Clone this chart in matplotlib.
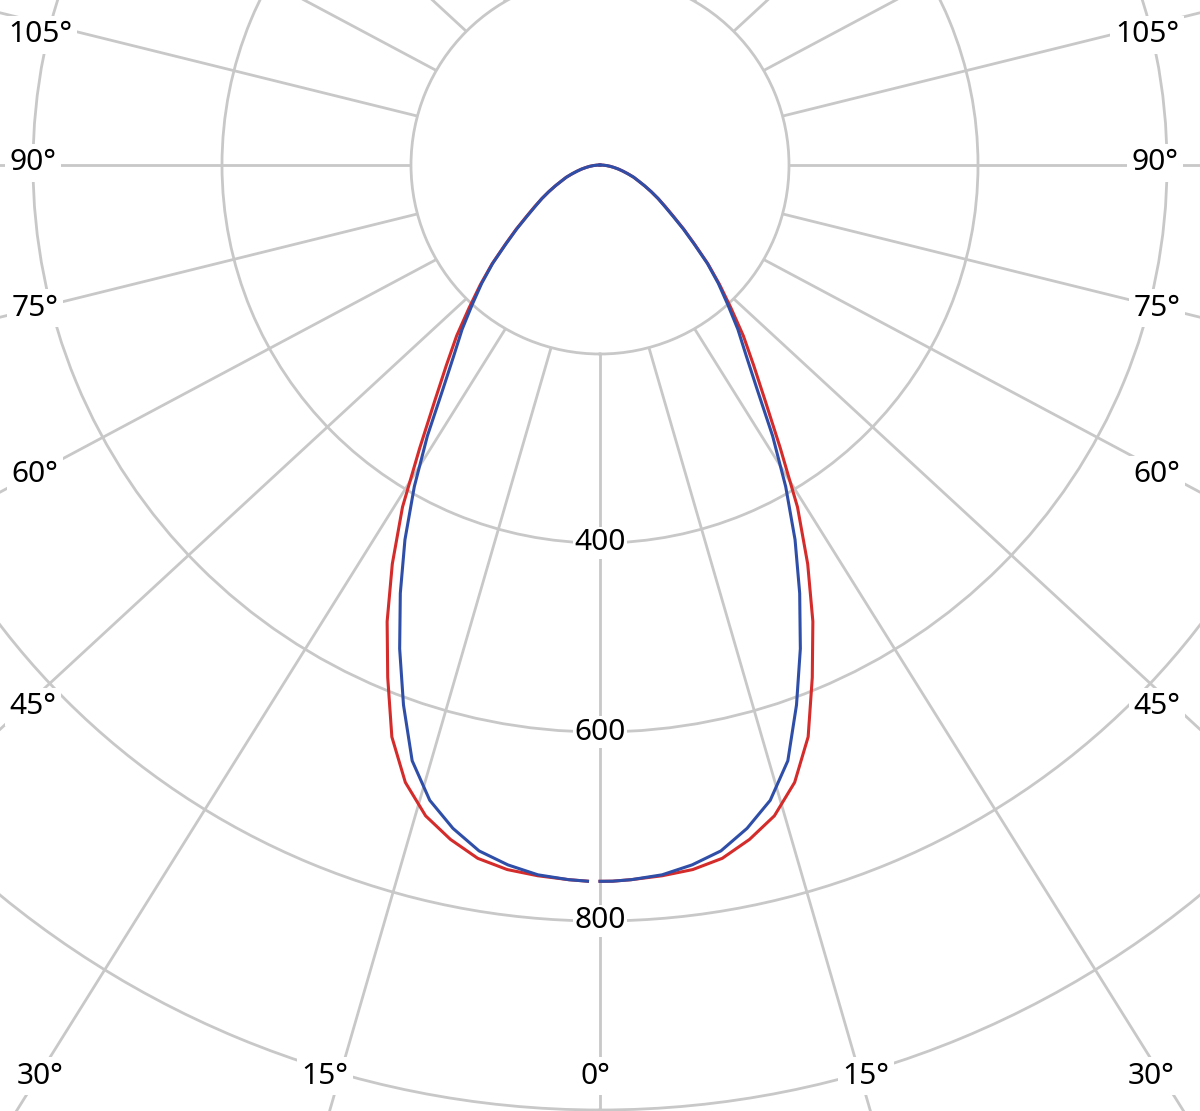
import numpy as np
import matplotlib
matplotlib.use("Agg")
import matplotlib.pyplot as plt

# ---- data (luminous intensity, cd) ----
angles_deg = [0, 1, 2.5, 5, 7.5, 10, 12.5, 15, 17.5, 20, 22.5, 25, 27.5, 30,
              32.5, 35, 37.5, 40, 42.5, 45, 47.5, 50, 52.5, 55, 57.5, 60,
              62.5, 65, 67.5, 70, 72.5, 75, 77.5, 80, 82.5, 85, 87.5, 90]
red_cd = [758, 758, 757, 755, 752, 745, 731, 713, 685, 644, 587, 533, 476, 418,
          355, 305, 267, 236, 205, 179, 155, 131, 112, 95, 82, 71,
          61, 52, 44, 38, 31, 25, 20, 15, 11, 7, 3, 0]
blue_cd = [758, 758, 757, 754, 747, 737, 719, 696, 661, 608, 554, 500, 447, 393,
           340, 290, 254, 227, 200, 177, 154, 130, 111, 94, 81, 71,
           61, 52, 44, 38, 31, 25, 20, 15, 11, 7, 3, 0]

ring_values = [200, 400, 600, 800, 1000]
ring_label_values = [400, 600, 800]
spoke_angles = list(range(-165, 181, 15))

angle_labels = ["105°", "90°", "75°", "60°", "45°", "30°", "15°", "0°",
                "15°", "30°", "45°", "60°", "75°", "90°", "105°"]

# ---- style ----
W, H, DPI = 1200, 1111, 100
PX_PER_CD = 0.945
CX, CY = 600, 165          # pixel position of the pole (from top-left)
RMAX = 1200
GRID = "#c8c8c8"
RED = "#d42b2b"
BLUE = "#2f4ea7"
FONT = ["Noto Sans", "DejaVu Sans"]
FS = 21.5

fig = plt.figure(figsize=(W / DPI, H / DPI), dpi=DPI, facecolor="white")
rpx = RMAX * PX_PER_CD
ax = fig.add_axes([(CX - rpx) / W, (H - CY - rpx) / H, 2 * rpx / W, 2 * rpx / H],
                  projection="polar")
ax.set_theta_zero_location("S")
ax.set_theta_direction(1)
ax.set_ylim(0, RMAX)
ax.set_xticks([])
ax.set_yticks(ring_values)
ax.set_yticklabels([])
ax.yaxis.grid(True, color=GRID, lw=2.0)
ax.xaxis.grid(False)
ax.spines["polar"].set_visible(False)
ax.set_facecolor("white")
ax.tick_params(length=0)

# spokes: start on the 200 ring, run outward
k = 1.07
R_out = 1300
for a in spoke_angles:
    t = np.radians(a)
    phi = np.arctan2(k * np.sin(t), np.cos(t))
    rho = R_out * np.hypot(k * np.sin(t), np.cos(t))
    ax.plot([t, phi], [200, rho], color=GRID, lw=2.0, zorder=1, solid_capstyle="butt")

# curves
th = np.radians(angles_deg)
for vals, col in ((red_cd, RED), (blue_cd, BLUE)):
    ax.plot(th, vals, color=col, lw=2.2, zorder=5, solid_joinstyle="round")
    ax.plot(-th[1:], vals[1:], color=col, lw=2.2, zorder=5, solid_joinstyle="round")

# ring value labels
for v in ring_label_values:
    ax.text(0, v, str(v), ha="center", va="center", fontsize=FS, family=FONT,
            color="black", zorder=4,
            bbox=dict(boxstyle="square,pad=0.05", fc="white", ec="none"))

# angle labels (pixel centres measured on the reference)
label_pos = [(40, 35), (33, 163), (35, 308), (35, 475), (33, 707), (40, 1076),
             (325, 1076), (595, 1076), (866, 1076), (1151, 1076), (1157, 707),
             (1157, 475), (1157, 308), (1155, 163), (1147, 35)]
for txt, (px, py) in zip(angle_labels, label_pos):
    fig.text(px / W, 1 - py / H, txt, ha="center", va="center", fontsize=FS,
             family=FONT, color="black",
             bbox=dict(boxstyle="square,pad=0.15", fc="white", ec="none"))

fig.savefig("out.png", dpi=DPI, facecolor="white")
